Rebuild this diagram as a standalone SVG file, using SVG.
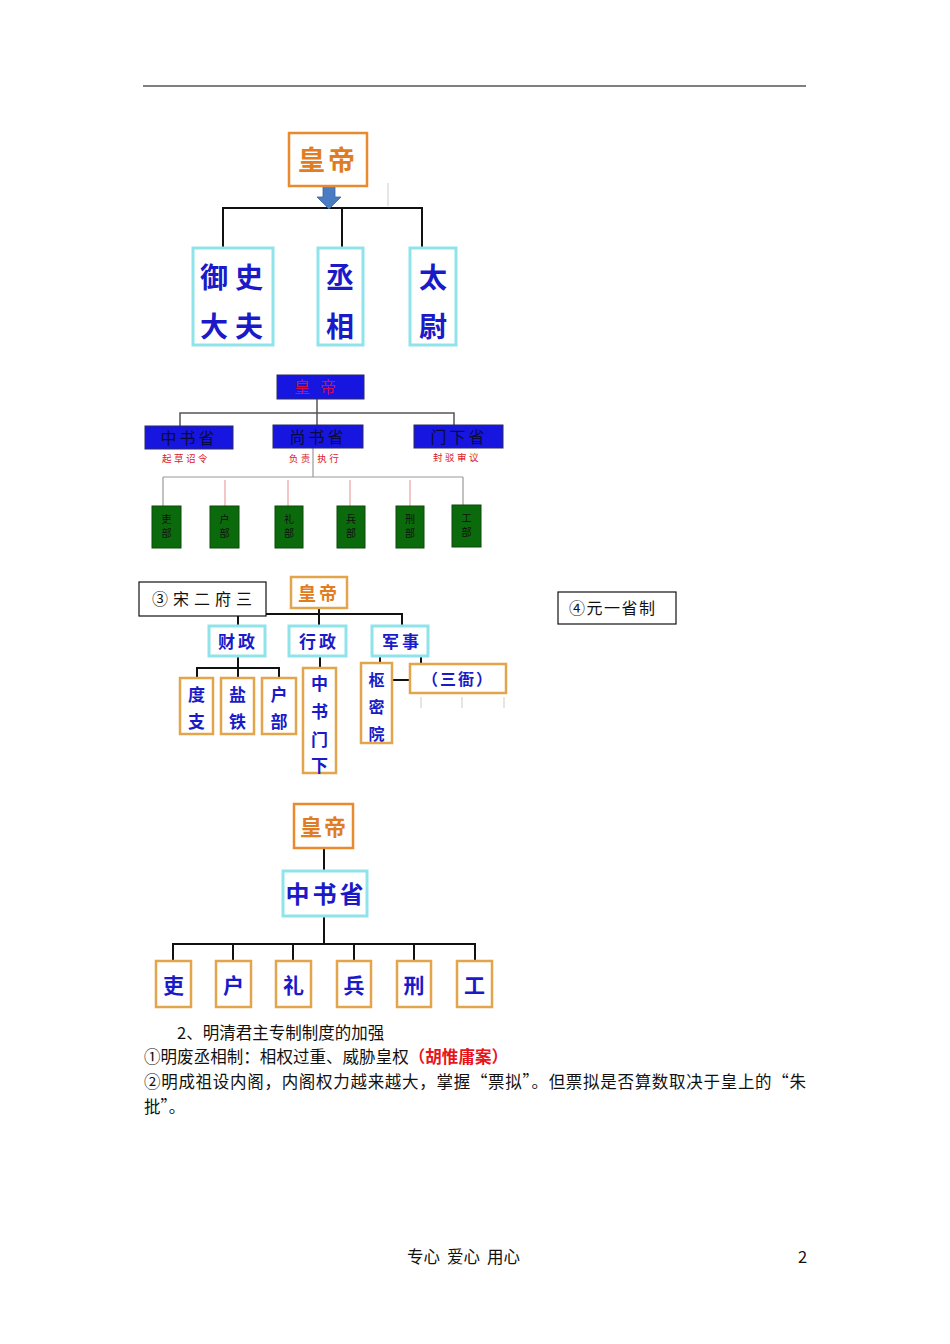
<svg xmlns="http://www.w3.org/2000/svg" width="950" height="1344" viewBox="0 0 950 1344">
<style>
.cjk{font-family:"Noto Sans CJK SC","Noto Sans",sans-serif}
.body{font-family:"Noto Sans CJK SC","Liberation Serif",serif;font-size:16.5px;fill:#111}
.orb{fill:#fff;stroke:#e98a2e;stroke-width:2.5}
.gob{fill:#fff;stroke:#e3a54c;stroke-width:2.5}
.cyb{fill:#fff;stroke:#8fe3ea;stroke-width:3}
.blt{fill:#1a1ac8;font-weight:bold;text-anchor:middle}
.ort{fill:#e07d22;font-weight:bold;text-anchor:middle}
.bb{fill:#1616e0;stroke:#2a2a60;stroke-width:1}
.gb{fill:#0b6a0b;stroke:#0a4a0a;stroke-width:1}
.k{stroke:#111;stroke-width:2;fill:none}
.g{stroke:#555;stroke-width:1.5;fill:none}
.red{fill:#d8202a;font-size:9.5px;text-anchor:middle;letter-spacing:2.5px}
.gt{font-size:10px;fill:#111;text-anchor:middle}
</style>
<line x1="143" y1="86" x2="806" y2="86" stroke="#555" stroke-width="1.5"/>

<!-- Diagram 1 -->
<g id="conn1">
<polyline class="k" points="223,247 223,208 422,208 422,247"/>
<line class="k" x1="342" y1="208" x2="342" y2="247"/>
<line x1="388" y1="183" x2="388" y2="206" stroke="#ccc" stroke-width="1"/>
<path d="M323,186 H335 V197 H341 L329,209 L317,197 H323 Z" fill="#4a7cc4" stroke="#3a64a0" stroke-width="0.8"/>
</g>
<g id="d1-emperor"><rect class="orb" x="289" y="133" width="78" height="53"/><text class="cjk ort" x="328" y="170" font-size="27" letter-spacing="3">皇帝</text></g>
<g id="d1-yushi"><rect class="cyb" x="193" y="248" width="80" height="97"/><text class="cjk blt" x="235" y="288" font-size="28" letter-spacing="7">御史</text><text class="cjk blt" x="235" y="337" font-size="28" letter-spacing="7">大夫</text></g>
<g id="d1-chengxiang"><rect class="cyb" x="318" y="248" width="45" height="97"/><text class="cjk blt" x="340" y="288" font-size="28">丞</text><text class="cjk blt" x="340" y="337" font-size="28">相</text></g>
<g id="d1-taiwei"><rect class="cyb" x="410" y="248" width="46" height="97"/><text class="cjk blt" x="433" y="288" font-size="28">太</text><text class="cjk blt" x="433" y="337" font-size="28">尉</text></g>

<!-- Diagram 2 -->
<g id="conn2">
<line class="g" x1="317" y1="399" x2="317" y2="425"/>
<polyline class="g" points="180,426 180,413 454,413 454,425"/>
<line x1="313" y1="448" x2="313" y2="477" stroke="#999" stroke-width="1.2"/>
<line x1="163" y1="477" x2="463" y2="477" stroke="#999" stroke-width="1.2"/>
<line x1="163" y1="477" x2="163" y2="506" stroke="#999" stroke-width="1.2"/>
<line x1="463" y1="477" x2="463" y2="505" stroke="#999" stroke-width="1.2"/>
<line x1="225" y1="480" x2="225" y2="506" stroke="#e09090" stroke-width="1"/>
<line x1="288" y1="480" x2="288" y2="506" stroke="#e09090" stroke-width="1"/>
<line x1="350" y1="480" x2="350" y2="506" stroke="#e09090" stroke-width="1"/>
<line x1="410" y1="480" x2="410" y2="506" stroke="#e09090" stroke-width="1"/>
</g>
<g id="d2-emperor"><rect class="bb" x="277" y="375" width="87" height="24"/><text class="cjk" x="320" y="393" font-size="16" fill="#d0104a" text-anchor="middle" letter-spacing="10">皇帝</text></g>
<g id="d2-zhongshu"><rect class="bb" x="145" y="426" width="88" height="23"/><text class="cjk" x="189" y="444" font-size="16" fill="#0a0a40" text-anchor="middle" letter-spacing="3">中书省</text><text class="cjk red" x="186" y="462">起草诏令</text></g>
<g id="d2-shangshu"><rect class="bb" x="273" y="425" width="90" height="23"/><text class="cjk" x="318" y="443" font-size="16" fill="#0a0a40" text-anchor="middle" letter-spacing="3">尚书省</text><text class="cjk red" x="315" y="462">负责 执行</text></g>
<g id="d2-menxia"><rect class="bb" x="414" y="425" width="89" height="23"/><text class="cjk" x="459" y="443" font-size="16" fill="#0a0a40" text-anchor="middle" letter-spacing="3">门下省</text><text class="cjk red" x="457" y="461">封驳审议</text></g>
<g id="d2-li"><rect class="gb" x="152" y="506" width="29" height="42"/><text class="cjk gt" x="166.5" y="523">吏</text><text class="cjk gt" x="166.5" y="537">部</text></g>
<g id="d2-hu"><rect class="gb" x="210" y="506" width="29" height="42"/><text class="cjk gt" x="224.5" y="523">户</text><text class="cjk gt" x="224.5" y="537">部</text></g>
<g id="d2-lii"><rect class="gb" x="275" y="506" width="28" height="42"/><text class="cjk gt" x="289" y="523">礼</text><text class="cjk gt" x="289" y="537">部</text></g>
<g id="d2-bing"><rect class="gb" x="337" y="506" width="28" height="42"/><text class="cjk gt" x="351" y="523">兵</text><text class="cjk gt" x="351" y="537">部</text></g>
<g id="d2-xing"><rect class="gb" x="396" y="506" width="28" height="42"/><text class="cjk gt" x="410" y="523">刑</text><text class="cjk gt" x="410" y="537">部</text></g>
<g id="d2-gong"><rect class="gb" x="452" y="505" width="29" height="42"/><text class="cjk gt" x="466.5" y="522">工</text><text class="cjk gt" x="466.5" y="536">部</text></g>

<!-- Diagram 3 -->
<g id="conn3">
<line class="k" x1="319" y1="608" x2="319" y2="626" stroke-width="1.5"/>
<polyline class="k" stroke-width="1.5" points="238,626 238,614 402,614 402,626"/>
<line class="k" stroke-width="1.5" x1="238" y1="656" x2="238" y2="668"/>
<polyline class="k" stroke-width="1.5" points="197,678 197,668 279,668 279,678"/>
<line class="k" stroke-width="1.5" x1="238" y1="668" x2="238" y2="678"/>
<line class="k" stroke-width="1.5" x1="320" y1="656" x2="320" y2="668"/>
<line class="k" stroke-width="1.5" x1="380" y1="656" x2="380" y2="663"/>
<line class="k" stroke-width="1.5" x1="421" y1="656" x2="421" y2="664"/>
<line class="k" stroke-width="1.5" x1="392" y1="680" x2="410" y2="680"/>
<g stroke="#ddd" stroke-width="1.5"><line x1="421" y1="697" x2="421" y2="708"/><line x1="462" y1="697" x2="462" y2="708"/><line x1="504" y1="697" x2="504" y2="708"/></g>
</g>
<g id="d3-title"><rect x="139" y="582" width="127" height="34" fill="#fff" stroke="#111" stroke-width="1.2"/><text class="cjk" x="152" y="605" font-size="16" fill="#111" letter-spacing="5">③宋二府三</text></g>
<g id="d3-emperor"><rect class="gob" x="291" y="577" width="56" height="31"/><text class="cjk ort" x="319" y="600" font-size="18" letter-spacing="3">皇帝</text></g>
<g id="d3-caizheng"><rect class="cyb" x="209" y="626" width="56" height="30"/><text class="cjk blt" x="238" y="648" font-size="17" letter-spacing="3">财政</text></g>
<g id="d3-xingzheng"><rect class="cyb" x="289" y="626" width="57" height="30"/><text class="cjk blt" x="319" y="648" font-size="17" letter-spacing="3">行政</text></g>
<g id="d3-junshi"><rect class="cyb" x="372" y="626" width="56" height="30"/><text class="cjk blt" x="402" y="648" font-size="17" letter-spacing="3">军事</text></g>
<g id="d3-duzhi"><rect class="gob" x="180" y="678" width="33" height="56"/><text class="cjk blt" x="196.5" y="701" font-size="17">度</text><text class="cjk blt" x="196.5" y="728" font-size="17">支</text></g>
<g id="d3-yantie"><rect class="gob" x="221" y="678" width="33" height="56"/><text class="cjk blt" x="237.5" y="701" font-size="17">盐</text><text class="cjk blt" x="237.5" y="728" font-size="17">铁</text></g>
<g id="d3-hubu"><rect class="gob" x="262" y="678" width="34" height="56"/><text class="cjk blt" x="279" y="701" font-size="17">户</text><text class="cjk blt" x="279" y="728" font-size="17">部</text></g>
<g id="d3-zhongshumenxia"><rect class="gob" x="303" y="668" width="33" height="105"/><text class="cjk blt" x="319.5" y="690" font-size="17">中</text><text class="cjk blt" x="319.5" y="718" font-size="17">书</text><text class="cjk blt" x="319.5" y="746" font-size="17">门</text><text class="cjk blt" x="319.5" y="772" font-size="17">下</text></g>
<g id="d3-shumiyuan"><rect class="gob" x="361" y="663" width="31" height="80"/><text class="cjk blt" x="376.5" y="686" font-size="16">枢</text><text class="cjk blt" x="376.5" y="713" font-size="16">密</text><text class="cjk blt" x="376.5" y="740" font-size="16">院</text></g>
<g id="d3-sanya"><rect class="gob" x="410" y="664" width="96" height="29"/><text class="cjk blt" x="458" y="685" font-size="16" letter-spacing="2">（三衙）</text></g>
<g id="d4-title"><rect x="558" y="592" width="118" height="32" fill="#fff" stroke="#111" stroke-width="1.2"/><text class="cjk" x="569" y="614" font-size="16" fill="#111" letter-spacing="1.5">④元一省制</text></g>

<!-- Diagram 4 -->
<g id="conn4">
<line class="k" x1="324" y1="848" x2="324" y2="871"/>
<line class="k" x1="324" y1="916" x2="324" y2="944"/>
<polyline class="k" points="173,961 173,944 475,944 475,961"/>
<line class="k" x1="233" y1="944" x2="233" y2="961"/>
<line class="k" x1="293" y1="944" x2="293" y2="961"/>
<line class="k" x1="354" y1="944" x2="354" y2="961"/>
<line class="k" x1="414" y1="944" x2="414" y2="961"/>
</g>
<g id="d4-emperor"><rect class="orb" x="294" y="804" width="59" height="44"/><text class="cjk ort" x="324" y="835" font-size="22" letter-spacing="2">皇帝</text></g>
<g id="d4-zhongshu"><rect class="cyb" x="283" y="871" width="84" height="45"/><text class="cjk blt" x="326" y="903" font-size="24" letter-spacing="3">中书省</text></g>
<g id="d4-li"><rect class="gob" x="156" y="961" width="35" height="46"/><text class="cjk blt" x="173.5" y="993" font-size="21">吏</text></g>
<g id="d4-hu"><rect class="gob" x="216" y="961" width="35" height="46"/><text class="cjk blt" x="233.5" y="993" font-size="21">户</text></g>
<g id="d4-lii"><rect class="gob" x="276" y="961" width="35" height="46"/><text class="cjk blt" x="293.5" y="993" font-size="21">礼</text></g>
<g id="d4-bing"><rect class="gob" x="337" y="961" width="34" height="46"/><text class="cjk blt" x="354" y="993" font-size="21">兵</text></g>
<g id="d4-xing"><rect class="gob" x="397" y="961" width="34" height="46"/><text class="cjk blt" x="414" y="993" font-size="21">刑</text></g>
<g id="d4-gong"><rect class="gob" x="457" y="961" width="35" height="46"/><text class="cjk blt" x="474.5" y="993" font-size="21">工</text></g>

<!-- Body text -->
<text class="body" x="177" y="1039">2、明清君主专制制度的加强</text>
<text class="body" x="144" y="1063" textLength="364" lengthAdjust="spacing">①明废丞相制：相权过重、威胁皇权<tspan fill="#e8141c" font-weight="bold">（胡惟庸案）</tspan></text>
<text class="body" x="144" y="1088" textLength="662" lengthAdjust="spacing">②明成祖设内阁，内阁权力越来越大，掌握“票拟”。但票拟是否算数取决于皇上的“朱</text>
<text class="body" x="144" y="1113">批”。</text>
<text class="body" x="407" y="1263" font-size="13.5">专心</text>
<text class="body" x="447" y="1263" font-size="13.5">爱心</text>
<text class="body" x="487" y="1263" font-size="13.5">用心</text>
<text class="body" x="798" y="1263" font-size="13.5">2</text>
</svg>
